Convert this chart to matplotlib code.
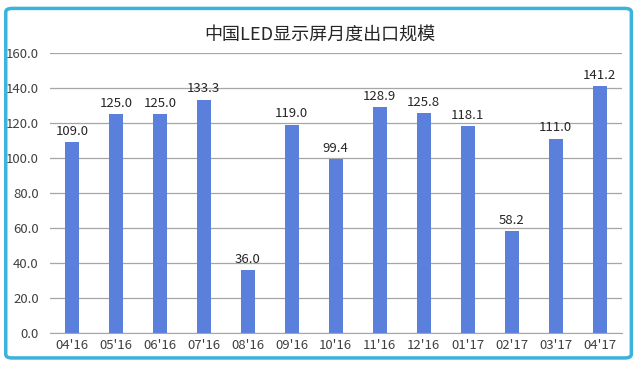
import matplotlib.pyplot as plt
from matplotlib.patches import FancyBboxPatch

plt.rcParams['font.family'] = ['Noto Sans CJK SC', 'DejaVu Sans']

# Monthly export data
months = ["04'16", "05'16", "06'16", "07'16", "08'16", "09'16", "10'16",
          "11'16", "12'16", "01'17", "02'17", "03'17", "04'17"]
values = [109.0, 125.0, 125.0, 133.3, 36.0, 119.0, 99.4,
          128.9, 125.8, 118.1, 58.2, 111.0, 141.2]
yticks = [0, 20, 40, 60, 80, 100, 120, 140, 160]

fig = plt.figure(figsize=(6.39, 3.66), dpi=100)

# Light blue rounded frame around the chart
frame = FancyBboxPatch((0.009, 0.022), 0.979, 0.955,
                       boxstyle='round,pad=0,rounding_size=0.01',
                       transform=fig.transFigure, fill=False,
                       edgecolor='#3bb3dc', linewidth=2.5)
fig.patches.append(frame)

ax = fig.add_axes([0.078, 0.09, 0.895, 0.765])
x = range(len(months))
ax.bar(x, values, width=0.32, color='#5b80dc', zorder=3)

for xi, v in zip(x, values):
    ax.text(xi, v + 2.5, f'{v:.1f}', ha='center', va='bottom',
            fontsize=9.5, color='#262626')

ax.set_xlim(-0.5, len(months) - 0.5)
ax.set_ylim(0, 160)
ax.set_yticks(yticks)
ax.set_yticklabels([f'{t:.1f}' for t in yticks])
ax.set_xticks(list(x))
ax.set_xticklabels(months)
ax.tick_params(axis='both', length=0, labelsize=9.5, labelcolor='#404040')
ax.tick_params(axis='y', pad=8)
ax.tick_params(axis='x', pad=4)
ax.grid(axis='y', color='#a6a6a6', linewidth=0.9, zorder=0)
for s in ['top', 'right', 'left']:
    ax.spines[s].set_visible(False)
ax.spines['bottom'].set_color('#a6a6a6')

fig.text(0.5, 0.905, '中国LED显示屏月度出口规模', ha='center', va='center',
         fontsize=13, color='#262626')

fig.savefig('out.png', dpi=100)
